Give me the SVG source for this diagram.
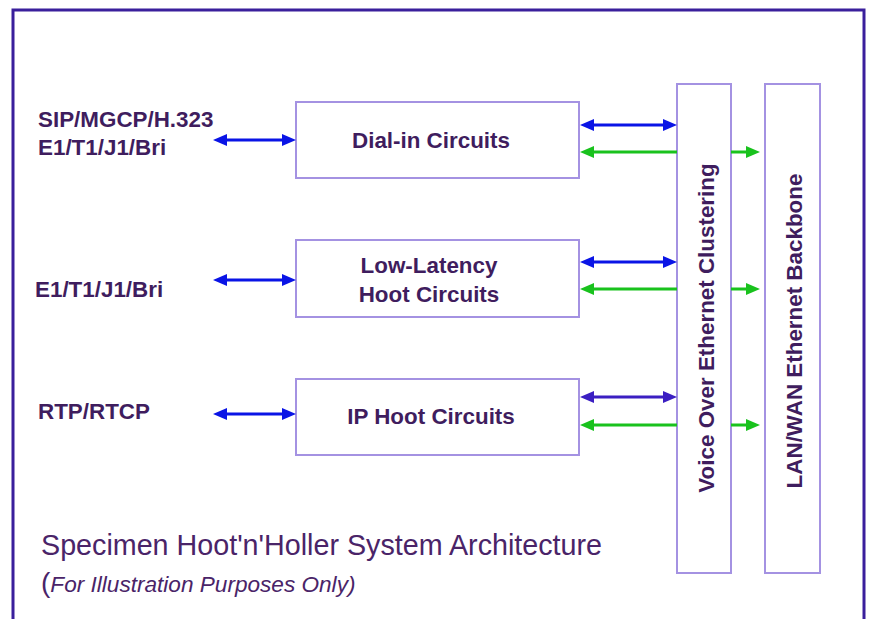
<svg xmlns="http://www.w3.org/2000/svg" width="869" height="619" viewBox="0 0 869 619">
<style>
.frame{fill:none;stroke:#3a1f9c;stroke-width:3}
.box{fill:#fff;stroke:#a492e2;stroke-width:2}
.lbl{font-family:"Liberation Sans",Arial,sans-serif;font-weight:bold;font-size:22.4px;fill:#3f1d5e}
.ctr{text-anchor:middle}
.title{font-family:"Liberation Sans",Arial,sans-serif;font-size:28.7px;fill:#4a2468}
.sub{font-family:"Liberation Sans",Arial,sans-serif;font-size:22.6px;font-style:italic;fill:#4a2468}
.blue{stroke:#0a14e6;stroke-width:3;fill:none}
.dblue{stroke:#3b1fc2;stroke-width:3;fill:none}
.green{stroke:#19c21d;stroke-width:3;fill:none}
</style>
<defs>
<marker id="mb" markerUnits="userSpaceOnUse" markerWidth="14" markerHeight="12" refX="4" refY="6" orient="auto-start-reverse"><path d="M0,0 L14,6 L0,12 z" fill="#0a14e6"/></marker>
<marker id="md" markerUnits="userSpaceOnUse" markerWidth="14" markerHeight="12" refX="4" refY="6" orient="auto-start-reverse"><path d="M0,0 L14,6 L0,12 z" fill="#3b1fc2"/></marker>
<marker id="mg" markerUnits="userSpaceOnUse" markerWidth="14" markerHeight="12" refX="4" refY="6" orient="auto-start-reverse"><path d="M0,0 L14,6 L0,12 z" fill="#19c21d"/></marker>
</defs>
<rect width="869" height="619" fill="#fff"/>
<rect class="frame" x="13" y="10" width="851" height="640"/>

<g id="label-dialin">
<text class="lbl" x="38" y="127">SIP/MGCP/H.323</text>
<text class="lbl" x="38" y="155">E1/T1/J1/Bri</text>
</g>
<g id="label-lowlatency"><text class="lbl" x="35" y="297">E1/T1/J1/Bri</text></g>
<g id="label-ip"><text class="lbl" x="38" y="419">RTP/RTCP</text></g>

<g id="dialin">
<rect class="box" x="296" y="102" width="283" height="76"/>
<text class="lbl ctr" x="431" y="148">Dial-in Circuits</text>
</g>
<g id="lowlatency">
<rect class="box" x="296" y="240" width="283" height="77"/>
<text class="lbl ctr" x="429" y="273">Low-Latency</text>
<text class="lbl ctr" x="429" y="302">Hoot Circuits</text>
</g>
<g id="iphoot">
<rect class="box" x="296" y="379" width="283" height="76"/>
<text class="lbl ctr" x="431" y="424">IP Hoot Circuits</text>
</g>
<g id="voe">
<rect class="box" x="677" y="84" width="54" height="489"/>
<text class="lbl ctr" transform="translate(714,328) rotate(-90)">Voice Over Ethernet Clustering</text>
</g>
<g id="lanwan">
<rect class="box" x="765" y="84" width="55" height="489"/>
<text class="lbl ctr" transform="translate(802,331) rotate(-90)">LAN/WAN Ethernet Backbone</text>
</g>

<g id="connectors">
<line class="blue" x1="223" y1="140" x2="286" y2="140" marker-start="url(#mb)" marker-end="url(#mb)"/>
<line class="blue" x1="223" y1="280" x2="286" y2="280" marker-start="url(#mb)" marker-end="url(#mb)"/>
<line class="blue" x1="223" y1="414" x2="286" y2="414" marker-start="url(#mb)" marker-end="url(#mb)"/>

<line class="blue" x1="590" y1="125" x2="667" y2="125" marker-start="url(#mb)" marker-end="url(#mb)"/>
<line class="green" x1="677" y1="152" x2="590" y2="152" marker-end="url(#mg)"/>
<line class="green" x1="731" y1="152" x2="750" y2="152" marker-end="url(#mg)"/>

<line class="blue" x1="590" y1="262" x2="667" y2="262" marker-start="url(#mb)" marker-end="url(#mb)"/>
<line class="green" x1="677" y1="289" x2="590" y2="289" marker-end="url(#mg)"/>
<line class="green" x1="731" y1="289" x2="750" y2="289" marker-end="url(#mg)"/>

<line class="dblue" x1="590" y1="397" x2="667" y2="397" marker-start="url(#md)" marker-end="url(#md)"/>
<line class="green" x1="677" y1="425" x2="590" y2="425" marker-end="url(#mg)"/>
<line class="green" x1="731" y1="425" x2="750" y2="425" marker-end="url(#mg)"/>
</g>

<g id="caption">
<text class="title" x="41" y="555">Specimen Hoot'n'Holler System Architecture</text>
<text class="sub" x="41" y="592"><tspan style="font-style:normal;font-size:28px">(</tspan>For Illustration Purposes Only)</text>
</g>
</svg>
